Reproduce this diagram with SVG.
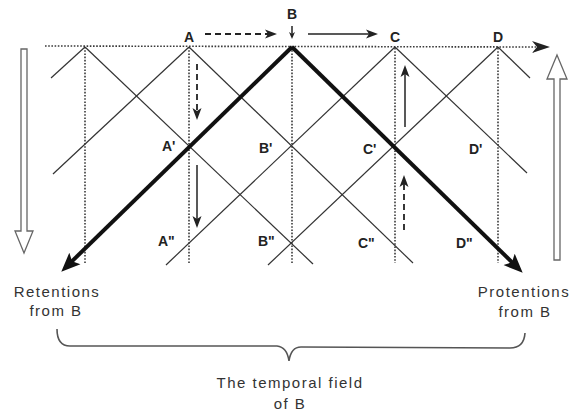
<svg xmlns="http://www.w3.org/2000/svg" width="572" height="414" viewBox="0 0 572 414">
<style>
.bg{fill:#fff}
.thin{stroke:#333;stroke-width:1.2;fill:none}
.thick{stroke:#111;stroke-width:4;fill:none}
.dot{stroke:#3a3a3a;stroke-width:1.6;stroke-dasharray:1.6 1.6;fill:none}
.arr{stroke:#222;stroke-width:1.5;fill:none}
.dash{stroke:#222;stroke-width:1.8;fill:none;stroke-dasharray:6 4}
.hollow{fill:#fff;stroke:#666;stroke-width:1.3;stroke-linejoin:miter}
.brace{stroke:#555;stroke-width:1.6;fill:none}
.lbl{font-family:"Liberation Sans",Arial,sans-serif;font-size:14px;font-weight:bold;fill:#222}
.cap{font-family:"Liberation Sans",Arial,sans-serif;font-size:15px;fill:#333;letter-spacing:1.5px;text-anchor:middle}
</style>
<defs>
<marker id="ahThick" markerUnits="userSpaceOnUse" markerWidth="26" markerHeight="22" viewBox="0 -11 26 22" refX="6" refY="0" orient="auto">
<path d="M19,0 L0,-8 L4,0 L0,8 Z" fill="#111"/>
</marker>
<marker id="ahMed" markerUnits="userSpaceOnUse" markerWidth="22" markerHeight="16" viewBox="0 -8 22 16" refX="4" refY="0" orient="auto">
<path d="M18,0 L0,-6 L5,0 L0,6 Z" fill="#222"/>
</marker>
<marker id="ahThin" markerUnits="userSpaceOnUse" markerWidth="14" markerHeight="12" viewBox="0 -6 14 12" refX="7" refY="0" orient="auto">
<path d="M12,0 L0,-4.5 L3,0 L0,4.5 Z" fill="#222"/>
</marker>
<marker id="ahTiny" markerUnits="userSpaceOnUse" markerWidth="10" markerHeight="8" viewBox="0 -4 10 8" refX="5" refY="0" orient="auto">
<path d="M7,0 L0,-3 L2,0 L0,3 Z" fill="#222"/>
</marker>
</defs>
<rect class="bg" x="0" y="0" width="572" height="414"/>

<g id="connectors">
  <!-- time axis -->
  <line class="dot" x1="45" y1="46" x2="536" y2="47" marker-end="url(#ahMed)"/>
  <!-- vertical dotted lines -->
  <line class="dot" x1="85" y1="47" x2="85" y2="263"/>
  <line class="dot" x1="189" y1="47" x2="189" y2="263"/>
  <line class="dot" x1="292" y1="47" x2="292" y2="263"/>
  <line class="dot" x1="395" y1="48" x2="395" y2="263"/>
  <line class="dot" x1="498" y1="48" x2="498" y2="263"/>
  <!-- down-right thin lines -->
  <line class="thin" x1="85" y1="47" x2="313" y2="264"/>
  <line class="thin" x1="189" y1="47" x2="413" y2="263"/>
  <line class="thin" x1="395" y1="47" x2="527" y2="173"/>
  <line class="thin" x1="498" y1="47" x2="530" y2="78"/>
  <!-- down-left thin lines -->
  <line class="thin" x1="85" y1="47" x2="51" y2="78"/>
  <line class="thin" x1="189" y1="47" x2="53" y2="174"/>
  <line class="thin" x1="395" y1="47" x2="166" y2="265"/>
  <line class="thin" x1="498" y1="47" x2="268" y2="265"/>
  <!-- thick retention / protention lines -->
  <line class="thick" x1="292" y1="47" x2="70.6" y2="262.6" marker-end="url(#ahThick)"/>
  <line class="thick" x1="292" y1="47" x2="513.4" y2="263.6" marker-end="url(#ahThick)"/>
  <!-- small arrows -->
  <line class="dash" x1="205" y1="34" x2="272" y2="34" marker-end="url(#ahThin)"/>
  <line class="arr" x1="308" y1="34" x2="373" y2="34" marker-end="url(#ahThin)"/>
  <line class="arr" x1="292" y1="26" x2="292" y2="37" marker-end="url(#ahTiny)"/>
  <line class="dash" x1="197" y1="64" x2="197" y2="115" marker-end="url(#ahThin)"/>
  <line class="arr" x1="197" y1="165" x2="197" y2="223" marker-end="url(#ahThin)"/>
  <line class="arr" x1="405" y1="127" x2="405" y2="70" marker-end="url(#ahThin)"/>
  <line class="dash" x1="404" y1="230" x2="404" y2="180" marker-end="url(#ahThin)"/>
  <!-- hollow arrows -->
  <polygon class="hollow" points="21,49 27,49 27,231 33,231 24,253 15,231 21,231"/>
  <polygon class="hollow" points="557,55 567,79 560,79 560,260 554,260 554,79 547,79"/>
  <!-- brace -->
  <path class="brace" d="M57,329 Q57,346 70,346 L277,346 Q287,347 289,361 Q291,347 301,347 L510,348 Q524,348 525,333"/>
</g>

<g id="node-A"><text class="lbl" x="189" y="42" text-anchor="middle">A</text></g>
<g id="node-B"><text class="lbl" x="292" y="19" text-anchor="middle">B</text></g>
<g id="node-C"><text class="lbl" x="395" y="42" text-anchor="middle">C</text></g>
<g id="node-D"><text class="lbl" x="498" y="42" text-anchor="middle">D</text></g>
<g id="node-A1"><text class="lbl" x="162" y="151">A'</text></g>
<g id="node-B1"><text class="lbl" x="259" y="153">B'</text></g>
<g id="node-C1"><text class="lbl" x="363" y="154">C'</text></g>
<g id="node-D1"><text class="lbl" x="469" y="154">D'</text></g>
<g id="node-A2"><text class="lbl" x="158" y="246">A"</text></g>
<g id="node-B2"><text class="lbl" x="258" y="246">B"</text></g>
<g id="node-C2"><text class="lbl" x="358" y="248">C"</text></g>
<g id="node-D2"><text class="lbl" x="456" y="248">D"</text></g>

<g id="label-retentions">
  <text class="cap" x="57" y="297">Retentions</text>
  <text class="cap" x="56" y="316">from B</text>
</g>
<g id="label-protentions">
  <text class="cap" x="524" y="297">Protentions</text>
  <text class="cap" x="525" y="317">from B</text>
</g>
<g id="label-field">
  <text class="cap" x="290" y="388">The temporal field</text>
  <text class="cap" x="290" y="409">of B</text>
</g>
</svg>
